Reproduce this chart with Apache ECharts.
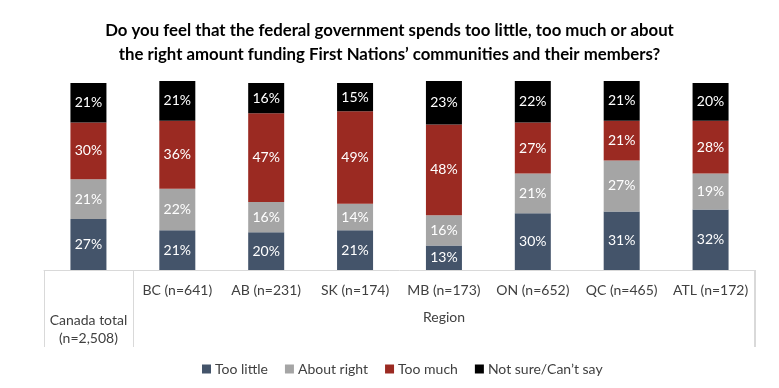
<!DOCTYPE html>
<html>
<head>
<meta charset="utf-8">
<script src="https://cdn.jsdelivr.net/npm/echarts@6/dist/echarts.min.js"></script>
<style>
html,body{margin:0;padding:0;background:#fff;}
#c{width:779px;height:388px;}
</style>
</head>
<body>
<div id="c"></div>
<script>
const categories = ['Canada total (n=2,508)', 'BC (n=641)', 'AB (n=231)', 'SK (n=174)', 'MB (n=173)', 'ON (n=652)', 'QC (n=465)', 'ATL (n=172)'];
const tooLittle = [27, 21, 20, 21, 13, 30, 31, 32];
const aboutRight = [21, 22, 16, 14, 16, 21, 27, 19];
const tooMuch = [30, 36, 47, 49, 48, 27, 21, 28];
const notSure = [21, 21, 16, 15, 23, 22, 21, 20];
const seriesNames = ['Too little', 'About right', 'Too much', 'Not sure/Can\u2019t say'];
const groupName = 'Region';
const titleText = 'Do you feel that the federal government spends too little, too much or about\nthe right amount funding First Nations\u2019 communities and their members?';

const FONT = 'Lato';
const colors = ['#44546A', '#A5A5A5', '#9B2A22', '#000000'];
const values = [tooLittle, aboutRight, tooMuch, notSure];
const tickStyle = {color: '#D9D9D9', width: 1};
const TICK_LEN = 77;

const chart = echarts.init(document.getElementById('c'));
chart.setOption({
  animation: false,
  title: {
    text: titleText,
    left: 'center',
    top: 14,
    textStyle: {fontFamily: FONT, fontWeight: 'bold', fontSize: 16.8, color: '#000', lineHeight: 24}
  },
  grid: {left: 44, right: 24, top: 81, bottom: 118, containLabel: false},
  legend: {
    bottom: 7,
    left: 197,
    itemWidth: 9,
    itemHeight: 9,
    itemGap: 17,
    icon: 'rect',
    textStyle: {fontFamily: FONT, fontSize: 14, color: '#404040', padding: [0, 0, 0, -1]},
    data: seriesNames
  },
  xAxis: {
    type: 'category',
    data: categories,
    axisLine: {show: true, lineStyle: tickStyle},
    axisTick: {show: true, length: TICK_LEN, interval: function (i) { return i === 0 || i === 1; }, lineStyle: tickStyle},
    axisLabel: {
      interval: 0,
      margin: 11,
      fontFamily: FONT,
      fontSize: 14,
      color: '#404040',
      lineHeight: 18,
      formatter: function (v, i) {
        if (i === 0) {
          const parts = v.split(' (');
          return '{s| }\n{t|' + parts[0] + '}\n{t|(' + parts[1] + '}';
        }
        return v;
      },
      rich: {
        s: {lineHeight: 30, fontSize: 14},
        t: {lineHeight: 18, fontSize: 14, fontFamily: FONT, color: '#404040'}
      }
    },
    name: groupName,
    nameLocation: 'middle',
    nameGap: 40,
    nameMoveOverlap: false,
    nameTextStyle: {fontFamily: FONT, fontSize: 14, color: '#404040', padding: [0, 0, 0, 89]}
  },
  yAxis: {type: 'value', min: 0, max: 100, show: false, splitLine: {show: false}},
  series: seriesNames.map(function (n, k) {
    return {
      name: n,
      type: 'bar',
      stack: 'all',
      barWidth: 36,
      data: values[k],
      itemStyle: {color: colors[k]},
      label: {show: true, position: 'inside', formatter: '{c}%', color: '#fff', fontFamily: FONT, fontSize: 14}
    };
  })
});

// right-hand border of the category table, taken from the grid's own rectangle
const rect = chart.getModel().getComponent('grid', 0).coordinateSystem.getRect();
const xr = Math.round(rect.x + rect.width) - 0.5;
const yb = Math.round(rect.y + rect.height);
chart.setOption({
  graphic: [{
    type: 'line',
    shape: {x1: xr, y1: yb, x2: xr, y2: yb + TICK_LEN},
    style: {stroke: tickStyle.color, lineWidth: 1}
  }]
});
</script>
</body>
</html>
